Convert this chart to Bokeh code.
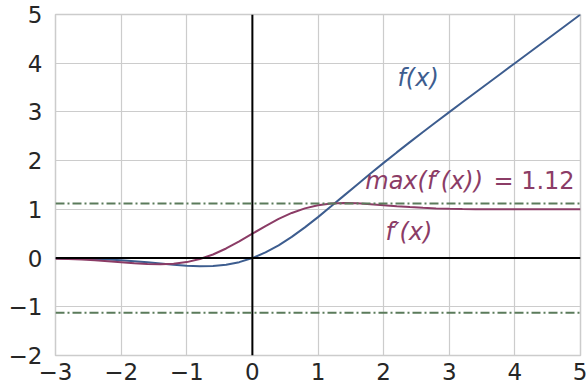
from bokeh.plotting import figure
from bokeh.models import Span, FixedTicker, ColumnDataSource
from bokeh.core.properties import value
from bokeh.embed import file_html
from bokeh.resources import INLINE

xs = [-3.0, -2.8, -2.6, -2.4, -2.2, -2.0, -1.8, -1.6, -1.4, -1.2, -1.0, -0.8, -0.6, -0.4, -0.2,
      0.0, 0.2, 0.4, 0.6, 0.8, 1.0, 1.2, 1.4, 1.6, 1.8, 2.0, 2.2, 2.4, 2.6, 2.8, 3.0,
      3.2, 3.4, 3.6, 3.8, 4.0, 4.2, 4.4, 4.6, 4.8, 5.0]
f_vals = [-0.004, -0.007, -0.012, -0.020, -0.031, -0.046, -0.065, -0.088, -0.113, -0.138, -0.159,
          -0.170, -0.165, -0.138, -0.084, 0.0, 0.116, 0.262, 0.435, 0.630, 0.841, 1.062, 1.287,
          1.512, 1.735, 1.954, 2.169, 2.380, 2.588, 2.793, 2.996, 3.198, 3.399, 3.599, 3.800,
          4.000, 4.200, 4.400, 4.600, 4.800, 5.000]
df_vals = [-0.012, -0.020, -0.031, -0.046, -0.064, -0.085, -0.106, -0.123, -0.129, -0.118, -0.083,
           -0.020, 0.074, 0.197, 0.342, 0.500, 0.658, 0.803, 0.926, 1.020, 1.083, 1.118, 1.129,
           1.123, 1.106, 1.085, 1.064, 1.046, 1.031, 1.020, 1.012, 1.007, 1.004, 1.002, 1.001,
           1.000, 1.000, 1.000, 1.000, 1.000, 1.000]
max_df = 1.12

x_ticks = [-3, -2, -1, 0, 1, 2, 3, 4, 5]
y_ticks = [-2, -1, 0, 1, 2, 3, 4, 5]

# italic (math-letter) label parts
it_text = ["f(x)", "max(f′(x))", "f′(x)"]
it_x = [2.21, 1.72, 2.03]
it_y = [3.70, 1.58, 0.53]
it_color = ["#3d5d8f", "#8b3c66", "#8b3c66"]
# upright label parts (right aligned)
up_text = ["= 1.12"]
up_x = [4.91]
up_y = [1.58]
up_color = ["#8b3c66"]

BLUE = "#3d5d8f"
PURPLE = "#8b3c66"
GREEN = "#5b7b5b"
FONT = "DejaVu Sans"

p = figure(width=587, height=389, x_range=(-3, 5), y_range=(-2, 5),
           output_backend="svg", toolbar_location=None,
           min_border_left=55, min_border_right=7, min_border_top=14, min_border_bottom=34)
p.background_fill_color = "white"
p.border_fill_color = "white"
p.outline_line_color = "#cccccc"
p.outline_line_width = 1.5

for ax, ticks in ((p.xaxis, x_ticks), (p.yaxis, y_ticks)):
    ax.ticker = FixedTicker(ticks=ticks)
    ax.major_label_overrides = {t: (str(t).replace("-", "−")) for t in ticks}
    ax.major_label_text_font = FONT
    ax.major_label_text_font_size = "23px"
    ax.major_label_text_color = "#262626"
    ax.major_tick_line_color = None
    ax.minor_tick_line_color = None
    ax.axis_line_color = None
    ax.major_tick_out = 0
    ax.major_tick_in = 0
p.xaxis.major_label_standoff = 7
p.yaxis.major_label_standoff = 13

p.xgrid.ticker = FixedTicker(ticks=x_ticks)
p.ygrid.ticker = FixedTicker(ticks=y_ticks)
p.grid.grid_line_color = "#cccccc"
p.grid.grid_line_width = 1.2

p.add_layout(Span(location=0, dimension="height", line_color="black", line_width=2))
p.add_layout(Span(location=0, dimension="width", line_color="black", line_width=2))
p.add_layout(Span(location=max_df, dimension="width", line_color=GREEN, line_width=2,
                  line_dash="9 3 2 3"))
p.add_layout(Span(location=-max_df, dimension="width", line_color=GREEN, line_width=2,
                  line_dash="9 3 2 3"))

p.line(xs, f_vals, line_color=BLUE, line_width=2)
p.line(xs, df_vals, line_color=PURPLE, line_width=2)

src = ColumnDataSource(dict(x=it_x, y=it_y, t=it_text, c=it_color))
p.text(x="x", y="y", text="t", text_color="c", source=src,
       text_font=value(FONT), text_font_size="24px", text_font_style="italic",
       text_align="left", text_baseline="middle")
src2 = ColumnDataSource(dict(x=up_x, y=up_y, t=up_text, c=up_color))
p.text(x="x", y="y", text="t", text_color="c", source=src2,
       text_font=value(FONT), text_font_size="24px",
       text_align="right", text_baseline="middle")

open("out.html", "w").write(file_html(p, INLINE))
